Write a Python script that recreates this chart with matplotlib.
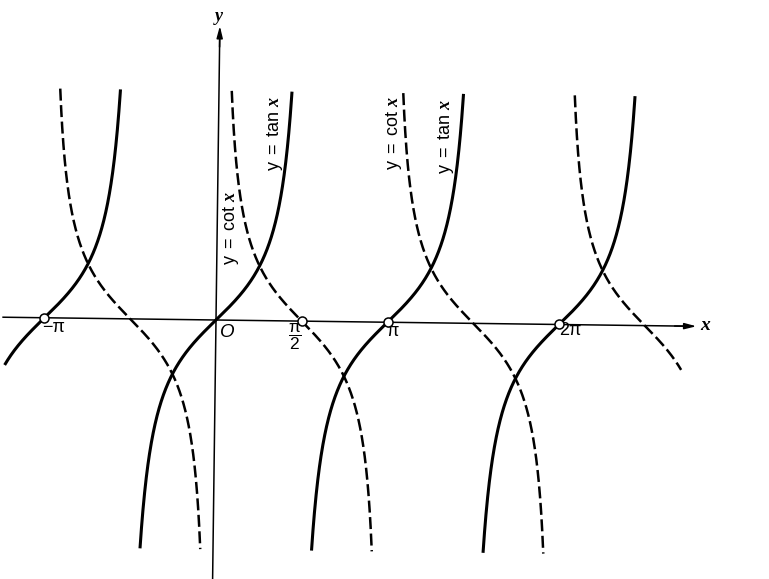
import numpy as np
import matplotlib
matplotlib.use("Agg")
import matplotlib.pyplot as plt
from matplotlib.transforms import Affine2D

plt.rcParams["mathtext.fontset"] = "custom"
plt.rcParams["mathtext.rm"] = "Liberation Sans"
plt.rcParams["mathtext.it"] = "Liberation Serif:italic:bold"
plt.rcParams["mathtext.bf"] = "Liberation Sans:bold"

PI = np.pi

# ---- data ----
# y = tan x (solid): branches centred on these points; y = cot x (dashed): branches start here
tan_centers = [-PI, 0.0, PI, 2 * PI]
cot_starts = [-PI, 0.0, PI, 2 * PI]
x_left, x_right = -3.86, 8.53      # where the drawn curves stop at the sides
y_extent = 4.2                     # curves drawn up to |y| = 4.2
marked_points = [-PI, PI / 2, PI, 2 * PI]   # small open circles on the x axis
tick_labels = ["\u2212\u03c0", "$\\dfrac{\\mathrm{\u03c0}}{\\mathrm{2}}$", "\u03c0", "2\u03c0"]
tick_label_pos = [(-2.967, -0.137), (1.447, -0.31), (3.242, -0.211), (6.484, -0.201)]
tick_label_size = [13, 12.5, 13, 13]
curve_labels = [r"$\mathrm{y}\ =\ \mathrm{cot}\ x$", r"$\mathrm{y}\ =\ \mathrm{tan}\ x$",
                r"$\mathrm{y}\ =\ \mathrm{cot}\ x$", r"$\mathrm{y}\ =\ \mathrm{tan}\ x$"]
curve_label_pos = [(0.275, 1.685), (1.081, 3.416), (3.26, 3.425), (4.212, 3.352)]

# ---- figure ----
W, H = 769, 579
SCALE = 54.6           # pixels per unit
OX, OY = 216, 320      # origin in pixels
fig = plt.figure(figsize=(W / 100, H / 100), dpi=100)
ax = fig.add_axes([0, 0, 1, 1])
ax.axis("off")
ax.set_xlim(-OX / SCALE, (W - OX) / SCALE)
ax.set_ylim(-(H - OY) / SCALE, OY / SCALE)
trans = Affine2D().rotate_deg(-0.75) + ax.transData

lim = np.arctan(y_extent)
for c in tan_centers:
    a = max(x_left, c - lim)
    b = min(x_right, c + lim)
    x = np.linspace(a, b, 600)
    ax.plot(x, np.tan(x), color="black", lw=2.2, solid_capstyle="butt",
            transform=trans, zorder=3)

acot = np.arctan(1 / y_extent)
for s in cot_starts:
    a = max(x_left, s + acot)
    b = min(x_right, s + PI - acot)
    x = np.linspace(a, b, 600)
    ln, = ax.plot(x, 1 / np.tan(x), color="black", lw=1.8, dash_capstyle="butt",
                  transform=trans, zorder=3)
    ln.set_dashes((4.8, 1.8))

# axes
ax.plot([-3.9, 8.6], [0, 0], color="black", lw=1.1, transform=trans, zorder=2)
ax.annotate("", xy=(8.8, 0), xytext=(8.4, 0), xycoords=trans,
            arrowprops=dict(arrowstyle="-|>,head_length=0.7,head_width=0.18",
                            lw=1.1, color="black", shrinkA=0, shrinkB=0))
ax.plot([0, 0], [-5.0, 5.2], color="black", lw=1.1, transform=trans, zorder=2)
ax.annotate("", xy=(0, 5.385), xytext=(0, 5.0), xycoords=trans,
            arrowprops=dict(arrowstyle="-|>,head_length=0.7,head_width=0.18",
                            lw=1.1, color="black", shrinkA=0, shrinkB=0))

ax.plot(marked_points, [0] * len(marked_points), "o", ms=6.5, mfc="white",
        mec="black", mew=1.1, transform=trans, zorder=5)

# labels
ax.text(8.965, -0.10, "x", fontsize=14, family="Liberation Serif", style="italic",
        weight="bold", ha="center", va="center")
ax.text(0.055, 5.555, "y", fontsize=13, family="Liberation Serif", style="italic",
        weight="bold", ha="center", va="center")
ax.text(0.201, -0.229, "O", fontsize=13.5, family="Liberation Sans", style="italic",
        ha="center", va="center")
for lab, (px, py), fs in zip(tick_labels, tick_label_pos, tick_label_size):
    ax.text(px, py, lab, fontsize=fs, family="Liberation Sans", ha="center", va="center")
for lab, (px, py) in zip(curve_labels, curve_label_pos):
    ax.text(px, py, lab, fontsize=13, rotation=90, ha="center", va="center")

fig.savefig("out.png", dpi=100, facecolor="white")
